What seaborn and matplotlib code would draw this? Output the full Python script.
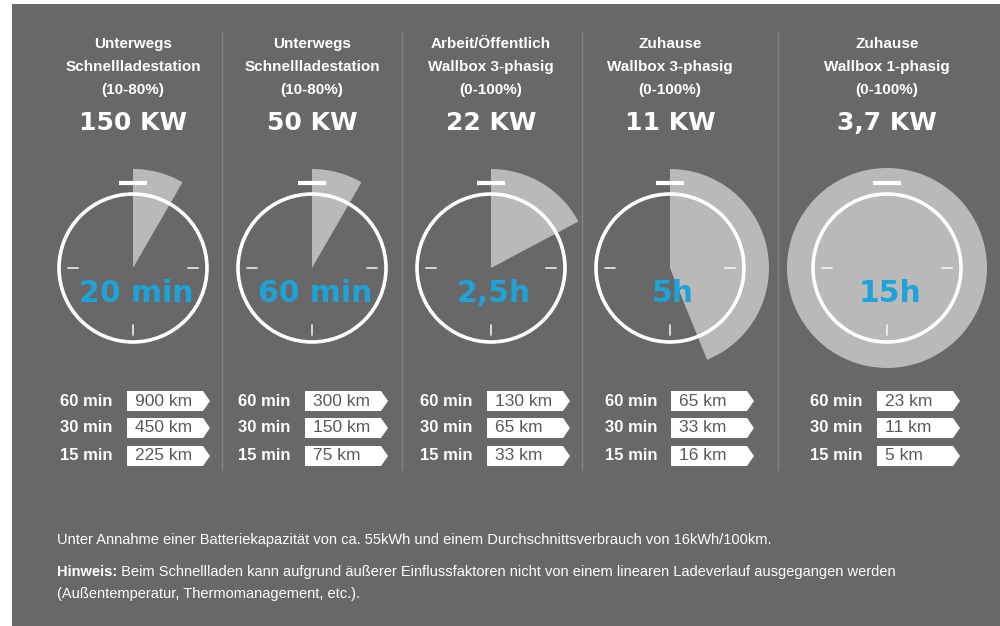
import matplotlib
matplotlib.use("Agg")
import matplotlib.pyplot as plt
import seaborn as sns
import pandas as pd
from matplotlib.patches import Wedge, Circle, Polygon, Rectangle

sns.set_theme(style="white")
plt.rcParams['font.family'] = ['Liberation Sans Narrow', 'Liberation Sans', 'DejaVu Sans']

# ---- data ----
header_line1 = ["Unterwegs", "Unterwegs", "Arbeit/Öffentlich", "Zuhause", "Zuhause"]
header_line2 = ["Schnellladestation", "Schnellladestation", "Wallbox 3-phasig", "Wallbox 3-phasig", "Wallbox 1-phasig"]
header_line3 = ["(10-80%)", "(10-80%)", "(0-100%)", "(0-100%)", "(0-100%)"]
power_labels = ["150 KW", "50 KW", "22 KW", "11 KW", "3,7 KW"]
duration_labels = ["20 min", "60 min", "2,5h", "5h", "15h"]
sweep_degrees = [30, 30, 62, 158, 360]
time_labels = ["60 min", "30 min", "15 min"]
km_60 = [900, 300, 130, 65, 23]
km_30 = [450, 150, 65, 33, 11]
km_15 = [225, 75, 33, 16, 5]
footer_line1 = "Unter Annahme einer Batteriekapazität von ca. 55kWh und einem Durchschnittsverbrauch von 16kWh/100km."
footer_bold = "Hinweis:"
footer_line2 = " Beim Schnellladen kann aufgrund äußerer Einflussfaktoren nicht von einem linearen Ladeverlauf ausgegangen werden"
footer_line3 = "(Außentemperatur, Thermomanagement, etc.)."

# ---- layout ----
col_x = [133, 312, 491, 670, 887]
sep_x = [222, 402, 582, 778]
label_x = [60, 238, 420, 605, 810]
box_x = [127, 305, 487, 671, 877]
row_y = [401, 428, 456]
clock_y = 268
R_clock = 74
R_wedge = 99

BG = "#686868"
WEDGE = "#b9b9b9"
BLUE = "#1da3d8"
NARROW = ['Liberation Sans Narrow', 'Liberation Sans', 'DejaVu Sans']

km_df = pd.DataFrame({"col": list(range(5)) * 3,
                      "row": [0] * 5 + [1] * 5 + [2] * 5,
                      "km": km_60 + km_30 + km_15})

fig = plt.figure(figsize=(10, 6.26), dpi=100)
ax = fig.add_axes([0, 0, 1, 1])
ax.set_xlim(0, 1000)
ax.set_ylim(626, 0)
ax.axis("off")
fig.patch.set_facecolor("white")
ax.add_patch(Rectangle((12, 4), 988, 622, facecolor=BG, edgecolor="none", zorder=0))

for sx in sep_x:
    ax.plot([sx, sx], [32, 470], color="#858585", lw=1, zorder=1)

for i, cx in enumerate(col_x):
    ax.text(cx, 44, header_line1[i], ha="center", va="center", color="white", fontsize=11,
            family=NARROW, weight="bold")
    ax.text(cx, 67, header_line2[i], ha="center", va="center", color="white", fontsize=11,
            family=NARROW, weight="bold")
    ax.text(cx, 90, header_line3[i], ha="center", va="center", color="white", fontsize=11,
            family=NARROW, weight="bold")
    ax.text(cx, 123, power_labels[i], ha="center", va="center", color="white", fontsize=18,
            family=['DejaVu Sans'], weight="bold")

    sw = sweep_degrees[i]
    if sw >= 360:
        ax.add_patch(Circle((cx, clock_y), R_wedge + 1, facecolor=WEDGE, edgecolor="none", zorder=2))
    else:
        ax.add_patch(Wedge((cx, clock_y), R_wedge, -90, -90 + sw, facecolor=WEDGE, edgecolor="none", zorder=2))
    ax.add_patch(Circle((cx, clock_y), R_clock, facecolor="none", edgecolor="white", lw=2.6, zorder=3))
    ax.plot([cx - 14, cx + 14], [clock_y - 85, clock_y - 85], color="white", lw=3, solid_capstyle="butt", zorder=3)
    ax.plot([cx - 65, cx - 55], [clock_y, clock_y], color="white", lw=1.3, alpha=0.8, zorder=3)
    ax.plot([cx + 55, cx + 65], [clock_y, clock_y], color="white", lw=1.3, alpha=0.8, zorder=3)
    ax.plot([cx, cx], [clock_y + 57, clock_y + 67], color="white", lw=1.3, alpha=0.8, zorder=3)
    ax.text(cx + 3, clock_y + 26, duration_labels[i], ha="center", va="center", color=BLUE,
            fontsize=21.5, family=['DejaVu Sans'], weight="bold", zorder=4)

for _, r in km_df.iterrows():
    i, j, km = int(r["col"]), int(r["row"]), int(r["km"])
    y = row_y[j]
    ax.text(label_x[i], y, time_labels[j], ha="left", va="center", color="white", fontsize=12,
            family=NARROW, weight="bold")
    x0 = box_x[i]
    x1 = x0 + 83
    h = 20
    poly = Polygon([(x0, y - h / 2), (x1 - 7, y - h / 2), (x1, y), (x1 - 7, y + h / 2), (x0, y + h / 2)],
                   closed=True, facecolor="white", edgecolor="none", zorder=2)
    ax.add_patch(poly)
    ax.text(x0 + 8, y, f"{km} km", ha="left", va="center", color="#5a5a5a", fontsize=12.5,
            family=NARROW, zorder=3)

ax.text(57, 540, footer_line1, ha="left", va="center", color="white", fontsize=10.5, family=NARROW)
t = ax.text(57, 572, footer_bold, ha="left", va="center", color="white", fontsize=10.5,
            family=NARROW, weight="bold")
ax.annotate(footer_line2, xy=(1, 0.5), xycoords=t, ha="left", va="center", color="white", fontsize=10.5,
            family=NARROW)
ax.text(57, 594, footer_line3, ha="left", va="center", color="white", fontsize=10.5, family=NARROW)

fig.savefig("out.png", dpi=100, facecolor="white")
